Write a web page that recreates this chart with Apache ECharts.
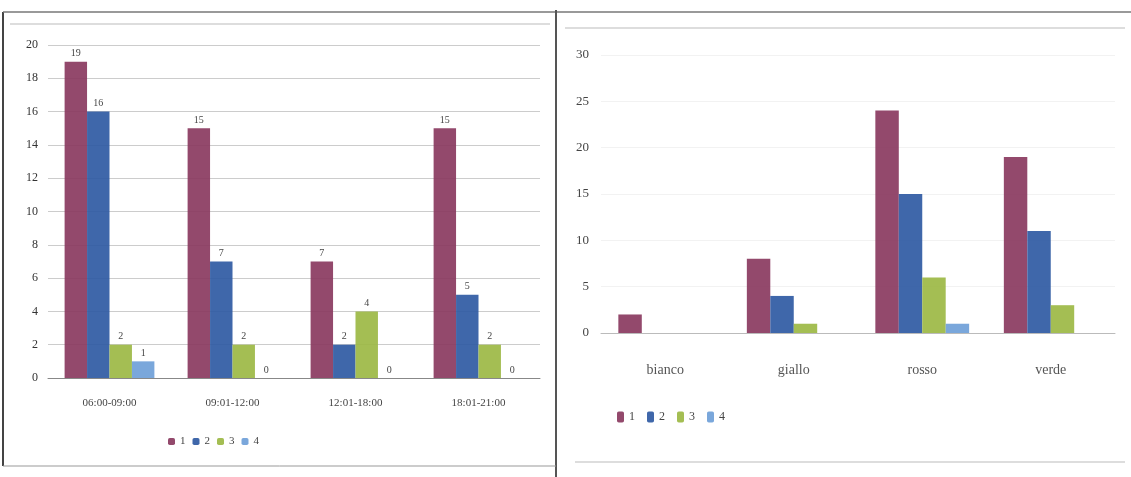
<!DOCTYPE html>
<html><head><meta charset="utf-8">
<script src="https://cdn.jsdelivr.net/npm/echarts@6/dist/echarts.min.js"></script>
<style>html,body{margin:0;padding:0;background:#fff}#c{width:1131px;height:477px}</style>
</head><body><div id="c"></div>
<script>
const seriesNames = ['1', '2', '3', '4'];
const leftCategories = ['06:00-09:00', '09:01-12:00', '12:01-18:00', '18:01-21:00'];
const leftS1 = [19, 15, 7, 15];
const leftS2 = [16, 7, 2, 5];
const leftS3 = [2, 2, 4, 2];
const leftS4 = [1, 0, 0, 0];
const rightCategories = ['bianco', 'giallo', 'rosso', 'verde'];
const rightS1 = [2, 8, 24, 19];
const rightS2 = [0, 4, 15, 11];
const rightS3 = [0, 1, 6, 3];
const rightS4 = [0, 0, 1, 0];

const colors = ['#8a3a60', '#2f5aa3', '#9cb844', '#6f9fd8'];
const font = 'Liberation Serif';
const chart = echarts.init(document.getElementById('c'));
const leftData = [leftS1, leftS2, leftS3, leftS4];
const rightData = [rightS1, rightS2, rightS3, rightS4];

function mkSeries(data, gi, withLabel) {
  return data.map((d, i) => ({
    name: seriesNames[i], type: 'bar', xAxisIndex: gi, yAxisIndex: gi, data: d,
    barGap: '0%', barCategoryGap: '27%',
    itemStyle: { color: colors[i], opacity: 0.92 },
    label: { show: withLabel, position: 'top', fontFamily: font, fontSize: 10, color: '#333', distance: 3 }
  }));
}

const lineStyle = { stroke: '#777', lineWidth: 1.5 };
chart.setOption({
  animation: false,
  color: colors,
  graphic: [
    { type: 'line', shape: { x1: 3, y1: 12, x2: 3, y2: 466 }, style: { stroke: '#444', lineWidth: 2 } },
    { type: 'line', shape: { x1: 3, y1: 12, x2: 1131, y2: 12 }, style: lineStyle },
    { type: 'line', shape: { x1: 10, y1: 24, x2: 550, y2: 24 }, style: { stroke: '#bbb', lineWidth: 1 } },
    { type: 'line', shape: { x1: 565, y1: 28, x2: 1125, y2: 28 }, style: { stroke: '#bbb', lineWidth: 1 } },
    { type: 'line', shape: { x1: 556, y1: 10, x2: 556, y2: 477 }, style: { stroke: '#555', lineWidth: 2 } },
    { type: 'line', shape: { x1: 3, y1: 466, x2: 556, y2: 466 }, style: { stroke: '#999', lineWidth: 1 } },
    { type: 'line', shape: { x1: 575, y1: 462, x2: 1125, y2: 462 }, style: { stroke: '#bbb', lineWidth: 1 } }
  ],
  legend: [
    { data: seriesNames, left: 163, top: 431, itemWidth: 7, itemHeight: 7, itemGap: 7,
      textStyle: { fontFamily: font, fontSize: 11, color: '#444' } },
    { data: seriesNames, left: 612, top: 406, itemWidth: 7, itemHeight: 11, itemGap: 12,
      textStyle: { fontFamily: font, fontSize: 12, color: '#444' } }
  ],
  grid: [
    { left: 48, top: 45, width: 492, height: 333 },
    { left: 601, top: 55, width: 514, height: 278 }
  ],
  xAxis: [
    { type: 'category', gridIndex: 0, data: leftCategories,
      axisLine: { lineStyle: { color: '#888' } }, axisTick: { show: false },
      axisLabel: { fontFamily: font, fontSize: 11, color: '#444', margin: 20 } },
    { type: 'category', gridIndex: 1, data: rightCategories,
      axisLine: { lineStyle: { color: '#bbb' } }, axisTick: { show: false },
      axisLabel: { fontFamily: font, fontSize: 14, color: '#555', margin: 30 } }
  ],
  yAxis: [
    { type: 'value', gridIndex: 0, min: 0, max: 20, interval: 2,
      axisLine: { show: false }, axisTick: { show: false },
      splitLine: { lineStyle: { color: '#ccc' } },
      axisLabel: { fontFamily: font, fontSize: 12, color: '#333', margin: 10 } },
    { type: 'value', gridIndex: 1, min: 0, max: 30, interval: 5,
      axisLine: { show: false }, axisTick: { show: false },
      splitLine: { lineStyle: { color: '#f2f2f2' } },
      axisLabel: { fontFamily: font, fontSize: 13, color: '#444', margin: 12 } }
  ],
  series: [...mkSeries(leftData, 0, true), ...mkSeries(rightData, 1, false)]
});
</script></body></html>
